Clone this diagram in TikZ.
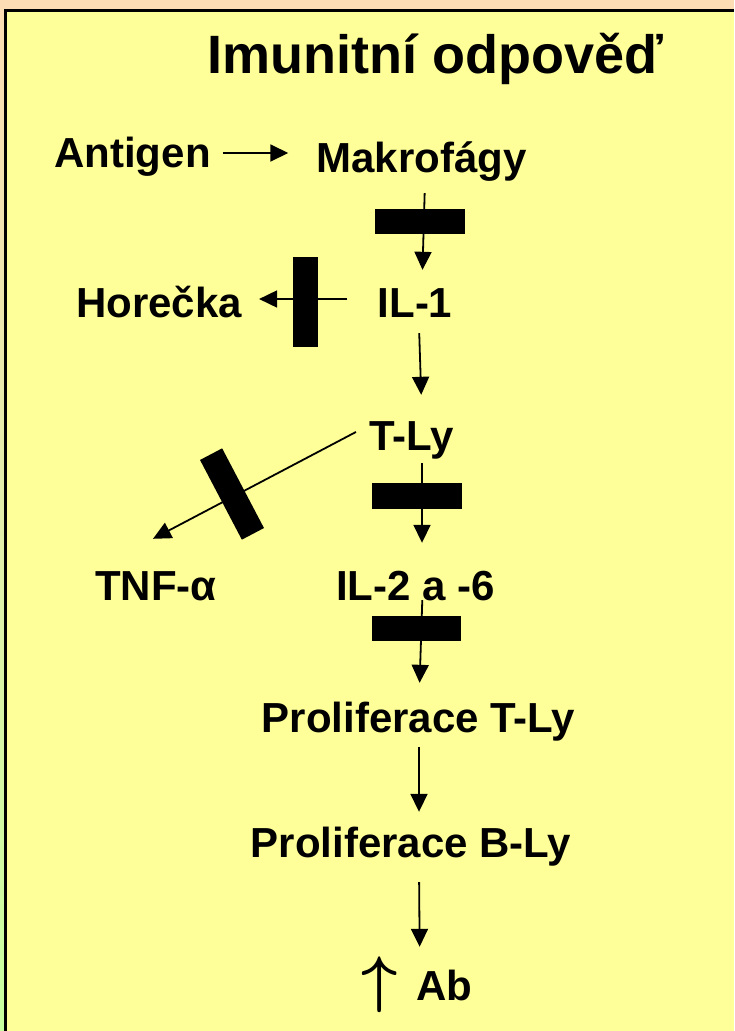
\documentclass[tikz,border=0pt]{standalone}
\usepackage{fontspec}
\setmainfont{Liberation Sans}
\usepackage{graphicx}
\usepackage{tikz}
\usetikzlibrary{arrows.meta,positioning,calc}
\definecolor{peachbg}{RGB}{252,221,180}
\definecolor{slidebg}{RGB}{255,255,153}
\definecolor{leafbg}{RGB}{200,255,160}

\begin{document}
\begin{tikzpicture}[x=1pt,y=-1pt,
    lbl/.style={anchor=base,inner sep=0pt,text height=30pt,text depth=9pt,
      font=\bfseries\fontsize{42}{50}\selectfont},
    ttl/.style={anchor=base,inner sep=0pt,font=\bfseries\fontsize{54}{64}\selectfont},
    arr/.style={-{Triangle[length=18pt,width=17pt]},line width=1.8pt},
    blk/.style={fill=black,inner sep=0pt,draw=none}]
    \useasboundingbox (0,0) rectangle (734,1031);
    % slide background
    \fill[peachbg] (0,0) rectangle (734,1031);
    \shade[top color=peachbg,bottom color=leafbg] (0,10) rectangle (5,1031);
    \fill[slidebg] (5.5,10) rectangle (734,1031);
    \draw[line width=3pt] (734,10) -- (5.5,10) -- (5.5,1031);
    % texts
    \node[ttl] (tit) at (435,73) {Imunitní odpověď};
    \node[lbl] (ant) at (132.5,167) {Antigen};
    \node[lbl] (mak) at (421.5,172) {Makrofágy};
    \node[lbl] (hor) at (159,317) {Horečka};
    \node[lbl] (il1) at (415,317) {IL-1};
    \node[lbl] (tly) at (411.5,450) {T-Ly};
    \node[lbl] (tnf) at (156,600) {TNF-α};
    \node[lbl] (il26) at (415.5,600) {IL-2 a -6};
    \node[lbl] (pt) at (418.5,732) {Proliferace T-Ly};
    \node[lbl] (pb) at (411,857) {Proliferace B-Ly};
    \node[lbl,anchor=base west] (ab) at (361,1000)
      {\scalebox{6.3}{\fontsize{10}{12}\selectfont\boldmath$\uparrow$}\hspace{19pt}Ab};
    % arrows
    \draw[arr,shorten <=12pt,shorten >=28pt] ([yshift=3.5pt]ant.east) -- ([yshift=3.5pt]ant.east -| mak.west);
    \draw[arr,shorten <=12pt,shorten >=17pt] ([xshift=3.5pt]mak.south) -- ([xshift=7pt]il1.north);
    \draw[arr,shorten <=30pt,shorten >=17pt] ([yshift=7.5pt]il1.west) -- ([yshift=7.5pt]il1.west -| hor.east);
    \draw[arr,shorten <=7pt,shorten >=25pt] ([xshift=4pt]il1.south) -- ([xshift=10.5pt]tly.north);
    \draw[arr] ([shift={(-13pt,7.5pt)}]tly.west) -- ([shift={(-3pt,31pt)}]tnf.north);
    \draw[arr,shorten <=4pt,shorten >=27pt] ([xshift=10.5pt]tly.south) -- ([xshift=6.5pt]il26.north);
    \draw[arr,shorten <=-9pt,shorten >=19pt] ([xshift=6.5pt]il26.south) -- ([xshift=0.5pt]pt.north);
    \draw[arr,shorten <=6pt,shorten >=15pt] ([xshift=0.5pt]pt.south) -- ([xshift=8pt]pb.north);
    \draw[arr,shorten <=16pt,shorten >=23pt] ([xshift=8pt]pb.south) -- ([xshift=3pt]ab.north);
    % blocking bars
    \node[blk,minimum width=90pt,minimum height=25pt] (b1) at (420,221.5) {};
    \node[blk,minimum width=25pt,minimum height=90pt] (b2) at (305.5,302) {};
    \node[blk,minimum width=25pt,minimum height=90pt,rotate=27.7] (b3) at (232,494) {};
    \node[blk,minimum width=90pt,minimum height=26pt] (b4) at (417,496) {};
    \node[blk,minimum width=89pt,minimum height=25pt] (b5) at (416.5,628.5) {};
\end{tikzpicture}
\end{document}
